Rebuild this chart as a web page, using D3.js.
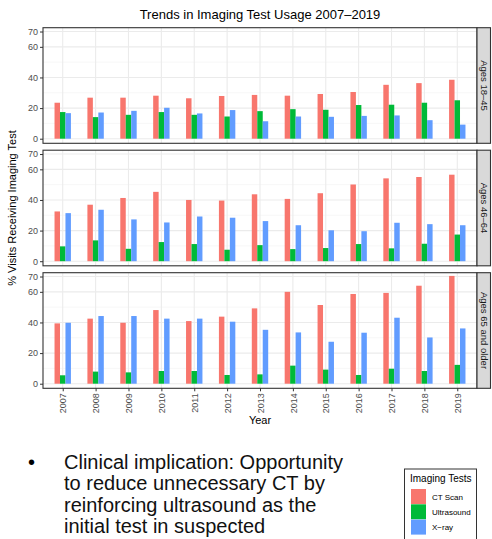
<!DOCTYPE html>
<html>
<head>
<meta charset="utf-8">
<script src="https://cdn.jsdelivr.net/npm/d3@7"></script>
<style>
body { margin: 0; background: #fff; }
svg { font-family: "Liberation Sans", Arial, sans-serif; }
</style>
</head>
<body>
<svg id="chart" width="492" height="539"></svg>
<script>
// data
const years = ['2007','2008','2009','2010','2011','2012','2013','2014','2015','2016','2017','2018','2019'];
const tests = ['CT Scan', 'Ultrasound', 'X-ray'];
const colors = ['#F8766D', '#00BA38', '#619CFF'];
const ageGroups = ['Ages 18\u201345', 'Ages 46\u201364', 'Ages 65 and older'];
const yTicks = [0, 20, 40, 60, 70];

const ct18 = [23.5, 26.8, 26.8, 28.1, 26.4, 27.9, 28.6, 28.1, 29.2, 30.5, 35.2, 36.3, 38.5];
const us18 = [17.4, 14.1, 15.6, 17.4, 15.6, 14.5, 18.0, 19.3, 18.9, 22.0, 22.2, 23.5, 25.1];
const xr18 = [16.7, 17.1, 18.2, 20.2, 16.5, 18.7, 11.4, 14.5, 14.3, 14.9, 15.2, 12.1, 9.2];

const ct46 = [32.5, 36.9, 41.3, 45.3, 40.0, 39.6, 43.7, 40.7, 44.4, 50.1, 54.1, 55.0, 56.5];
const us46 = [9.7, 13.6, 8.1, 12.5, 11.2, 7.5, 10.5, 7.9, 8.6, 11.2, 8.4, 11.4, 17.4];
const xr46 = [31.4, 33.6, 27.3, 25.3, 29.2, 28.4, 26.2, 23.5, 20.2, 19.6, 25.1, 24.2, 23.5];

const ct65 = [39.4, 42.5, 39.8, 48.1, 40.9, 43.8, 49.2, 60.0, 51.4, 58.6, 59.3, 64.0, 70.4];
const us65 = [5.5, 7.9, 7.4, 8.3, 8.3, 5.7, 6.1, 11.8, 9.2, 5.7, 9.8, 8.3, 12.3];
const xr65 = [39.8, 44.2, 44.2, 42.5, 42.5, 40.5, 35.2, 33.5, 27.4, 33.3, 43.1, 30.2, 36.1];

const panels = [
  [ct18, us18, xr18],
  [ct46, us46, xr46],
  [ct65, us65, xr65]
];

const svg = d3.select('#chart');
const left = 43, right = 477;
const panelTop0 = 27.7, panelH = 115.6, panelPitch = 122.5;

const x = d3.scalePoint()
  .domain(years)
  .range([left, right])
  .padding(0.6);
const xInner = d3.scaleBand()
  .domain(tests)
  .range([-8.2, 8.2]);
const color = d3.scaleOrdinal().domain(tests).range(colors);

svg.append('text')
  .attr('x', 260).attr('y', 19)
  .attr('text-anchor', 'middle')
  .attr('font-size', 13)
  .attr('fill', '#000')
  .text('Trends in Imaging Test Usage 2007\u20132019');

panels.forEach((series, p) => {
  const top = panelTop0 + p * panelPitch;
  const bottom = top + panelH;
  const y = d3.scaleLinear().domain([-3, 72.5]).range([bottom, top]);
  const g = svg.append('g');

  g.append('rect')
    .attr('x', left).attr('y', top)
    .attr('width', right - left).attr('height', panelH)
    .attr('fill', '#fff');

  // minor grid
  g.selectAll('.minor')
    .data([10, 30, 50])
    .enter().append('line')
    .attr('x1', left).attr('x2', right)
    .attr('y1', d => y(d)).attr('y2', d => y(d))
    .attr('stroke', '#f2f2f2').attr('stroke-width', 0.6);
  // major grid
  g.selectAll('.major')
    .data(yTicks)
    .enter().append('line')
    .attr('x1', left).attr('x2', right)
    .attr('y1', d => y(d)).attr('y2', d => y(d))
    .attr('stroke', '#ebebeb').attr('stroke-width', 1.1);
  g.selectAll('.vgrid')
    .data(years)
    .enter().append('line')
    .attr('x1', d => x(d)).attr('x2', d => x(d))
    .attr('y1', top).attr('y2', bottom)
    .attr('stroke', '#ebebeb').attr('stroke-width', 1.1);

  series.forEach((vals, s) => {
    g.selectAll('.bar' + s)
      .data(vals)
      .enter().append('rect')
      .attr('x', (d, i) => x(years[i]) + xInner(tests[s]))
      .attr('width', xInner.bandwidth())
      .attr('y', d => y(d))
      .attr('height', d => y(0) - y(d))
      .attr('fill', color(tests[s]));
  });

  g.append('rect')
    .attr('x', left).attr('y', top)
    .attr('width', right - left).attr('height', panelH)
    .attr('fill', 'none').attr('stroke', '#333').attr('stroke-width', 1.1);

  const yAxis = d3.axisLeft(y).tickValues(yTicks).tickSize(3).tickPadding(2);
  const ya = g.append('g')
    .attr('transform', 'translate(' + left + ',0)')
    .call(yAxis);
  ya.select('.domain').remove();
  ya.selectAll('line').attr('stroke', '#333');
  ya.selectAll('text').attr('fill', '#4d4d4d').attr('font-size', 9)
    .attr('font-family', '"Liberation Sans", Arial, sans-serif');

  // strip
  g.append('rect')
    .attr('x', right).attr('y', top)
    .attr('width', 13.5).attr('height', panelH)
    .attr('fill', '#d9d9d9').attr('stroke', '#333').attr('stroke-width', 1.1);
  g.append('text')
    .attr('transform', 'translate(' + (right + 3.5) + ',' + (top + panelH / 2) + ') rotate(90)')
    .attr('text-anchor', 'middle')
    .attr('font-size', 9.5)
    .attr('fill', '#1a1a1a')
    .text(ageGroups[p]);

  if (p === panels.length - 1) {
    const xAxis = d3.axisBottom(x).tickSize(3).tickPadding(2);
    const xa = g.append('g')
      .attr('transform', 'translate(0,' + bottom + ')')
      .call(xAxis);
    xa.select('.domain').remove();
    xa.selectAll('line').attr('stroke', '#333');
    xa.selectAll('text')
      .attr('fill', '#4d4d4d').attr('font-size', 9)
      .attr('font-family', '"Liberation Sans", Arial, sans-serif')
      .attr('transform', 'rotate(-90)')
      .attr('text-anchor', 'end')
      .attr('x', -5).attr('y', 0).attr('dy', '0.35em');
  }
});

svg.append('text')
  .attr('x', 260).attr('y', 424)
  .attr('text-anchor', 'middle')
  .attr('font-size', 11)
  .attr('fill', '#000')
  .text('Year');

svg.append('text')
  .attr('transform', 'translate(16,208) rotate(-90)')
  .attr('text-anchor', 'middle')
  .attr('font-size', 11)
  .attr('fill', '#000')
  .text('% Visits Receiving Imaging Test');

// bullet text
const lines = ['Clinical implication: Opportunity', 'to reduce unnecessary CT by',
  'reinforcing ultrasound as the', 'initial test in suspected'];
svg.append('text')
  .attr('x', 28).attr('y', 469)
  .attr('font-size', 20)
  .attr('font-family', '"Liberation Sans", Arial, sans-serif')
  .text('\u2022');
svg.selectAll('.body')
  .data(lines)
  .enter().append('text')
  .attr('x', 64).attr('y', (d, i) => 469 + i * 21.4)
  .attr('font-size', 20)
  .attr('fill', '#111')
  .text(d => d);

// legend
const lg = svg.append('g');
lg.append('rect')
  .attr('x', 404.5).attr('y', 469)
  .attr('width', 72).attr('height', 80)
  .attr('fill', '#fff').attr('stroke', '#333').attr('stroke-width', 1);
lg.append('text')
  .attr('x', 410).attr('y', 482)
  .attr('font-size', 10)
  .attr('fill', '#000')
  .text('Imaging Tests');
const legendLabels = ['CT Scan', 'Ultrasound', 'X\u2212ray'];
tests.forEach((t, i) => {
  lg.append('rect')
    .attr('x', 411).attr('y', 489 + i * 15.3)
    .attr('width', 15).attr('height', 15)
    .attr('fill', color(t));
  lg.append('text')
    .attr('x', 432).attr('y', 497 + i * 15.3)
    .attr('dy', '0.35em')
    .attr('font-size', 8)
    .attr('fill', '#000')
    .text(legendLabels[i]);
});
</script>
</body>
</html>
